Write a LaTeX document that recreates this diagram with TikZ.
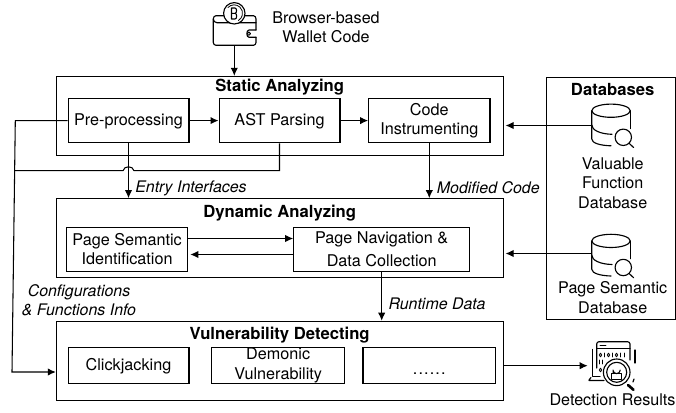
\documentclass[tikz,border=0pt]{standalone}
\usepackage{fontspec}
\setmainfont{TeX Gyre Heros}
\usetikzlibrary{arrows.meta}
\tikzset{
  stagebox/.style={draw,line width=0.8pt,inner sep=0pt},
  stepbox/.style={draw,line width=0.8pt,inner sep=0pt,align=center,execute at begin node={\rule{0pt}{10.5pt}}},
  flow/.style={line width=0.8pt,-{Latex[length=6pt,width=5.5pt]}},
  plain/.style={line width=0.8pt},
  icon/.style={line width=0.85pt,line cap=round,line join=round},
  title/.style={font=\fontsize{12.5}{14.4}\selectfont\bfseries},
  lbl/.style={font=\fontsize{12.1}{14.6}\selectfont,align=center},
  edgelbl/.style={font=\fontsize{11.95}{14.2}\selectfont\itshape,align=center}
}
\begin{document}
\begin{tikzpicture}[x=0.75pt,y=-0.75pt,every node/.append style={font=\fontsize{12.15}{14.4}\selectfont}]
  \useasboundingbox (0,0) rectangle (676,412);

% three stages and the database panel
  \node[stagebox,minimum width=335pt,minimum height=59.4pt] (static) at (279.7,116) {};
  \node[stagebox,minimum width=335pt,minimum height=59.4pt] (dynamic) at (279.7,238.3) {};
  \node[stagebox,minimum width=335pt,minimum height=59.3pt] (vuln) at (279.7,360.8) {};
  \node[stagebox,minimum width=96.6pt,minimum height=181.3pt] (databases) at (611.1,198.2) {};

  \node[title] (statictitle) at (279.7,87.5) {Static Analyzing};
  \node[title] (dynamictitle) at (279.7,213.5) {Dynamic Analyzing};
  \node[title] (vulntitle) at (279.7,335.5) {Vulnerability Detecting};
  \node[title] (dbtitle) at (612.7,89.5) {Databases};

% static analyzing
  \node[stepbox,minimum width=90.7pt,minimum height=33.2pt] (pre) at (128.5,120.6) {Pre-processing};
  \node[stepbox,minimum width=90.7pt,minimum height=33.2pt] (ast) at (279.5,120.6) {AST Parsing};
  \node[stepbox,minimum width=91pt,minimum height=33.2pt] (instr) at (429.3,120.6) {Code\\Instrumenting};

% dynamic analyzing
  \node[stepbox,minimum width=91pt,minimum height=33pt] (semid) at (127.1,249.3) {Page Semantic\\Identification};
  \node[stepbox,minimum width=132pt,minimum height=33pt] (nav) at (381.7,249.3) {Page Navigation \&\\[3pt]Data Collection};

% vulnerability detecting
  \node[stepbox,minimum width=90.7pt,minimum height=27pt] (click) at (128.5,365.7) {Clickjacking};
  \node[stepbox,minimum width=99.7pt,minimum height=27pt] (demonic) at (278.2,365.7) {Demonic\\[0.8pt]Vulnerability};
  \node[stepbox,minimum width=99.5pt,minimum height=27pt] (more) at (429.3,365.7) {\raisebox{-2.5pt}{.\kern0.85pt.\kern0.85pt.\kern0.85pt.\kern0.85pt.\kern0.85pt.}};

% labels
  \node[lbl] (walletlbl) at (326,27) {Browser-based\\Wallet Code};
  \node[lbl] (valuelbl) at (612.7,183) {Valuable\\Function\\Database};
  \node[lbl] (pagelbl) at (612.7,297.5) {Page Semantic\\Database};
  \node[lbl] (resultlbl) at (612.5,399.5) {Detection Results};
  \node[edgelbl,anchor=west,inner sep=0pt] (entrylbl) at (135,188) {Entry Interfaces};
  \node[edgelbl,anchor=west,inner sep=0pt] (modlbl) at (436.7,188) {Modified Code};
  \node[edgelbl,anchor=west,inner sep=0pt] (runlbl) at (388.3,304) {Runtime Data};
  \node[edgelbl] (cfglbl) at (79,300.5) {Configurations\\\& Functions Info};

% wallet icon
  \coordinate (wallet) at (234.3,45.3);
  \draw[icon] (225,15.7) -- (216,15.7) to[out=180,in=90] (213.3,19) -- (213.3,42.5) to[out=270,in=180] (216,45.3) -- (253.5,45.3) to[out=0,in=270] (256,42.5) -- (256,37.3);
  \draw[icon] (256,30) -- (256,19) to[out=90,in=0] (253.5,15.7) -- (244,15.7);
  \draw[icon] (213.3,19) to[out=270,in=180] (217,22.7) -- (256,22.7);
  \draw[icon] (256,30) -- (249,30) to[out=180,in=180] (249,37.3) -- (256,37.3);
  \draw[icon,line width=0.7pt] (248.9,33.7) circle (1.7);
  \draw[icon,fill=white] (234.3,13.3) circle (10.7);
  \draw[icon,line width=0.6pt] (228,7.5) arc (-137:60:8.4);
  \draw[icon,line width=0.8pt] (231.5,8) -- (231.5,19) (231.5,8) -- (235,8) to[out=0,in=0] (235,13.3) -- (231.5,13.3) (235,13.3) to[out=0,in=0] (235,19) -- (231.5,19);

% database icons
  \pgfmathsetmacro\yoff{0}
  \coordinate (valuedb) at (591.7,125.5);
  \draw[icon,shift={(0,\yoff)}] (611,110.7) ellipse (19.2 and 6.6);
  \draw[icon,shift={(0,\yoff)}] (591.8,110.7) -- (591.8,139) .. controls (591.8,143) and (600,145.5) .. (611,145.8);
  \draw[icon,shift={(0,\yoff)}] (591.8,125) .. controls (591.8,130) and (600,134) .. (612,134.3);
  \draw[icon,shift={(0,\yoff)}] (630.2,110.7) -- (630.2,128.5);
  \draw[icon,shift={(0,\yoff)}] (623.3,137.3) circle (8.2);
  \draw[icon,shift={(0,\yoff)}] (629,143.2) -- (633.6,147.5);

  \pgfmathsetmacro\yoff{130.2}
  \coordinate (pagedb) at (591.7,253.5);
  \draw[icon,shift={(0,\yoff)}] (611,110.7) ellipse (19.2 and 6.6);
  \draw[icon,shift={(0,\yoff)}] (591.8,110.7) -- (591.8,139) .. controls (591.8,143) and (600,145.5) .. (611,145.8);
  \draw[icon,shift={(0,\yoff)}] (591.8,125) .. controls (591.8,130) and (600,134) .. (612,134.3);
  \draw[icon,shift={(0,\yoff)}] (630.2,110.7) -- (630.2,128.5);
  \draw[icon,shift={(0,\yoff)}] (623.3,137.3) circle (8.2);
  \draw[icon,shift={(0,\yoff)}] (629,143.2) -- (633.6,147.5);

% detection results icon
  \coordinate (results) at (587.7,365.7);
  \draw[icon] (596.7,368) -- (596.7,344) to[out=90,in=180] (599,341.7) -- (627.5,341.7) to[out=0,in=90] (630,344) -- (630,360);
  \draw[icon] (596.7,348.3) -- (630,348.3);
  \draw[icon,line width=0.7pt] (600,345) -- (606,345);
  \draw[icon] (592.3,349.5) -- (592.3,376.5) -- (600,376.5);
  \draw[icon] (635,350) -- (635,363);
  \draw[icon] (589,380) -- (591,377.5) (589,380.5) -- (604,380.5);
  \foreach \bx in {600.5,608.5,616.5} {
    \draw[icon,line width=0.6pt] (\bx,355) ellipse (1.2 and 1.8);
  }
  \foreach \bx in {604.5,612.5,620.5,624.5} {
    \draw[icon,line width=0.6pt] (\bx,353) -- (\bx,357);
  }
  \draw[icon,line width=0.6pt] (599.5,360) -- (599.5,364) (602.5,360) -- (602.5,364);
  \draw[icon,line width=0.6pt] (600.5,370) ellipse (1.2 and 1.8);
  \draw[icon,fill=white] (616.7,372.3) circle (13.3);
  \draw[icon] (616.7,372.3) circle (10);
  \draw[icon,line width=0.75pt] (611.5,373.5) rectangle (621.9,379);
  \draw[icon,line width=0.75pt] (613,373.5) -- (613,370) arc (180:0:3.6) -- (620.2,371);
  \draw[icon,line width=2pt] (628,385) -- (633.5,389.8);
  \draw[icon] (634,379) -- (633,382);

% connectors
  \draw[flow] (wallet) -- (static.north -| wallet);
  \draw[flow] (pre) -- (ast);
  \draw[flow] (ast) -- (instr);
  \draw[flow] (pre.south) -- (dynamic.north -| pre);
  \draw[flow] (instr.south) -- (dynamic.north -| instr);
  \draw[flow] (nav.south) -- (vuln.north -| nav);
  \draw[flow,shorten >=1.5pt] (valuedb) -- (static.east |- valuedb);
  \draw[flow,shorten >=1.5pt] (pagedb) -- (dynamic.east |- pagedb);
  \coordinate (semhigh) at (semid.east |- 0,238.5);
  \coordinate (semlow) at (semid.east |- 0,254.5);
  \draw[flow] (semhigh) -- (nav.west |- semhigh);
  \draw[flow,shorten >=1.5pt] (nav.west |- semlow) -- (semlow);
  \draw[flow] (vuln.east |- results) -- (results);
  \coordinate (cfgtop) at (15.3,120.6);
  \coordinate (cfgbot) at (12,372);
  \draw[flow] (pre.west) -- (cfgtop) -- (cfgbot) -- (vuln.west |- cfgbot);
  \coordinate (astdown) at (ast.south |- 0,170.7);
  \coordinate (astleft) at (14.9,170.7);
  \draw[plain] (ast.south) -- (astdown) -- (134,170.7) .. controls (133,165.5) and (124,165.5) .. (123,170.7) -- (astleft);
\end{tikzpicture}
\end{document}
